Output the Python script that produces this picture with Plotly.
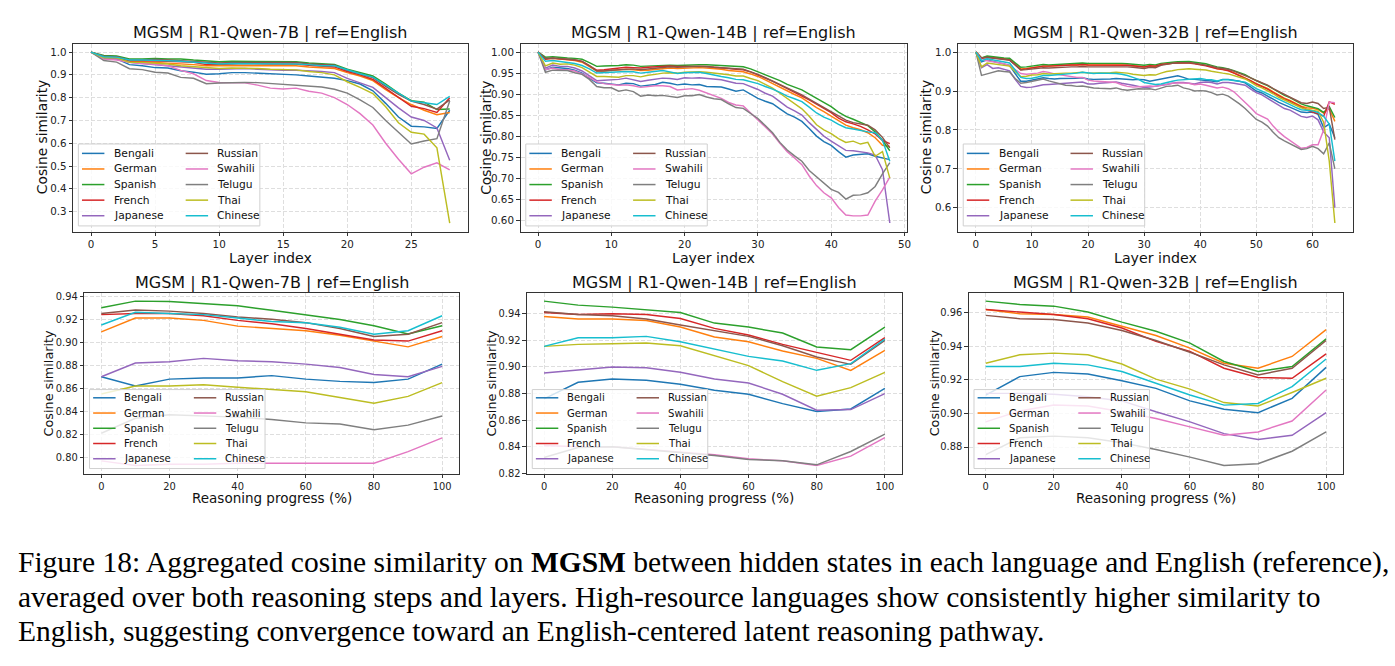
import plotly.graph_objects as go

W, H = 1395, 666
FONT = "DejaVu Sans"
SERIF = "Liberation Serif"

LANGS = ["Bengali", "German", "Spanish", "French", "Japanese",
         "Russian", "Swahili", "Telugu", "Thai", "Chinese"]
COLORS = ["#1f77b4", "#ff7f0e", "#2ca02c", "#d62728", "#9467bd",
          "#8c564b", "#e377c2", "#7f7f7f", "#bcbd22", "#17becf"]

layers_7b = list(range(29))
layers_14b = list(range(49))
layers_32b = list(range(65))
progress = [0, 10, 20, 30, 40, 50, 60, 70, 80, 90, 100]

# ---------------- R1-Qwen-7B, per layer ----------------
layer_7b = {
    "Bengali": [1.0, 0.972, 0.970, 0.945, 0.940, 0.932, 0.930, 0.918, 0.912, 0.903, 0.905, 0.910, 0.910, 0.908, 0.905,
                0.902, 0.900, 0.895, 0.890, 0.885, 0.875, 0.860, 0.830, 0.775, 0.715, 0.675, 0.672, 0.665, 0.745],
    "German": [1.0, 0.978, 0.978, 0.958, 0.958, 0.955, 0.952, 0.950, 0.945, 0.940, 0.940, 0.942, 0.942, 0.940, 0.940,
               0.940, 0.940, 0.935, 0.930, 0.928, 0.910, 0.895, 0.875, 0.835, 0.800, 0.770, 0.745, 0.725, 0.735],
    "Spanish": [1.0, 0.985, 0.983, 0.970, 0.970, 0.972, 0.970, 0.970, 0.965, 0.960, 0.958, 0.960, 0.960, 0.960, 0.958,
                0.958, 0.958, 0.952, 0.948, 0.946, 0.925, 0.910, 0.895, 0.860, 0.820, 0.787, 0.780, 0.748, 0.750],
    "French": [1.0, 0.980, 0.980, 0.962, 0.962, 0.962, 0.960, 0.958, 0.955, 0.945, 0.945, 0.948, 0.950, 0.948, 0.948,
               0.948, 0.948, 0.942, 0.940, 0.935, 0.915, 0.900, 0.880, 0.840, 0.800, 0.762, 0.752, 0.735, 0.800],
    "Japanese": [1.0, 0.975, 0.972, 0.955, 0.950, 0.945, 0.942, 0.935, 0.930, 0.925, 0.925, 0.928, 0.928, 0.925, 0.922,
                 0.920, 0.920, 0.918, 0.915, 0.910, 0.885, 0.865, 0.845, 0.800, 0.755, 0.715, 0.700, 0.667, 0.525],
    "Russian": [1.0, 0.982, 0.980, 0.965, 0.965, 0.968, 0.965, 0.962, 0.960, 0.955, 0.952, 0.955, 0.955, 0.955, 0.955,
                0.955, 0.955, 0.948, 0.945, 0.942, 0.920, 0.905, 0.888, 0.850, 0.815, 0.785, 0.770, 0.750, 0.790],
    "Swahili": [1.0, 0.970, 0.965, 0.955, 0.950, 0.947, 0.940, 0.920, 0.905, 0.875, 0.867, 0.866, 0.865, 0.855, 0.842,
                0.838, 0.842, 0.828, 0.820, 0.800, 0.770, 0.730, 0.680, 0.600, 0.530, 0.466, 0.495, 0.514, 0.483],
    "Telugu": [1.0, 0.963, 0.956, 0.927, 0.923, 0.912, 0.908, 0.889, 0.885, 0.861, 0.864, 0.866, 0.867, 0.866, 0.862,
               0.860, 0.857, 0.850, 0.847, 0.837, 0.820, 0.790, 0.757, 0.700, 0.650, 0.597, 0.610, 0.620, 0.785],
    "Thai": [1.0, 0.975, 0.975, 0.955, 0.955, 0.952, 0.948, 0.940, 0.935, 0.930, 0.928, 0.930, 0.930, 0.928, 0.925,
             0.922, 0.922, 0.915, 0.910, 0.900, 0.870, 0.845, 0.818, 0.760, 0.690, 0.648, 0.640, 0.580, 0.250],
    "Chinese": [1.0, 0.980, 0.978, 0.965, 0.965, 0.965, 0.962, 0.960, 0.955, 0.950, 0.948, 0.950, 0.950, 0.950, 0.948,
                0.948, 0.948, 0.945, 0.940, 0.940, 0.922, 0.905, 0.890, 0.855, 0.820, 0.785, 0.778, 0.770, 0.806],
}

# ---------------- R1-Qwen-14B, per layer ----------------
layer_14b = {
    "Bengali": [1.0, 0.958, 0.964, 0.962, 0.961, 0.957, 0.950, 0.938, 0.927, 0.926,
                0.924, 0.922, 0.926, 0.925, 0.919, 0.921, 0.923, 0.928, 0.926, 0.922,
                0.924, 0.922, 0.923, 0.918, 0.918, 0.917, 0.912, 0.907, 0.910, 0.900,
                0.890, 0.883, 0.877, 0.865, 0.853, 0.845, 0.835, 0.818, 0.800, 0.787,
                0.778, 0.763, 0.750, 0.755, 0.757, 0.758, 0.752, 0.748, 0.744],
    "German": [1.0, 0.984, 0.985, 0.983, 0.982, 0.980, 0.976, 0.966, 0.955, 0.955,
               0.956, 0.957, 0.959, 0.958, 0.956, 0.957, 0.959, 0.961, 0.962, 0.961,
               0.962, 0.963, 0.963, 0.962, 0.961, 0.959, 0.956, 0.954, 0.953, 0.948,
               0.942, 0.934, 0.925, 0.916, 0.907, 0.899, 0.891, 0.879, 0.868, 0.858,
               0.848, 0.836, 0.826, 0.820, 0.815, 0.808, 0.796, 0.778, 0.775],
    "Spanish": [1.0, 0.988, 0.989, 0.987, 0.986, 0.985, 0.983, 0.975, 0.966, 0.967,
                0.967, 0.968, 0.970, 0.969, 0.966, 0.967, 0.968, 0.969, 0.969, 0.968,
                0.969, 0.970, 0.970, 0.970, 0.969, 0.968, 0.967, 0.966, 0.965, 0.960,
                0.953, 0.946, 0.940, 0.932, 0.923, 0.917, 0.910, 0.900, 0.890, 0.880,
                0.870, 0.857, 0.847, 0.840, 0.832, 0.825, 0.810, 0.790, 0.765],
    "French": [1.0, 0.983, 0.985, 0.984, 0.983, 0.981, 0.978, 0.968, 0.957, 0.958,
               0.960, 0.962, 0.964, 0.963, 0.962, 0.964, 0.965, 0.967, 0.967, 0.966,
               0.966, 0.967, 0.967, 0.966, 0.964, 0.963, 0.961, 0.959, 0.958, 0.953,
               0.946, 0.938, 0.931, 0.922, 0.913, 0.905, 0.897, 0.886, 0.876, 0.866,
               0.856, 0.843, 0.834, 0.829, 0.823, 0.815, 0.805, 0.790, 0.782],
    "Japanese": [1.0, 0.962, 0.969, 0.966, 0.966, 0.962, 0.955, 0.944, 0.932, 0.933,
                 0.934, 0.935, 0.938, 0.934, 0.930, 0.933, 0.935, 0.938, 0.937, 0.935,
                 0.939, 0.938, 0.939, 0.937, 0.935, 0.934, 0.930, 0.926, 0.925, 0.918,
                 0.911, 0.902, 0.895, 0.882, 0.869, 0.860, 0.850, 0.832, 0.815, 0.800,
                 0.788, 0.776, 0.766, 0.765, 0.763, 0.760, 0.755, 0.720, 0.593],
    "Russian": [1.0, 0.985, 0.986, 0.985, 0.984, 0.982, 0.978, 0.968, 0.955, 0.955,
                0.957, 0.958, 0.960, 0.960, 0.958, 0.960, 0.962, 0.964, 0.965, 0.964,
                0.965, 0.966, 0.966, 0.965, 0.964, 0.962, 0.961, 0.960, 0.959, 0.953,
                0.947, 0.939, 0.931, 0.923, 0.914, 0.906, 0.898, 0.888, 0.878, 0.869,
                0.860, 0.848, 0.838, 0.832, 0.829, 0.826, 0.815, 0.797, 0.772],
    "Swahili": [1.0, 0.958, 0.962, 0.958, 0.958, 0.955, 0.948, 0.940, 0.929, 0.925,
                0.923, 0.921, 0.922, 0.920, 0.916, 0.918, 0.920, 0.920, 0.918, 0.910,
                0.912, 0.913, 0.909, 0.903, 0.897, 0.890, 0.880, 0.874, 0.872, 0.855,
                0.840, 0.822, 0.805, 0.783, 0.763, 0.748, 0.732, 0.705, 0.682, 0.665,
                0.653, 0.630, 0.612, 0.610, 0.610, 0.612, 0.645, 0.672, 0.702],
    "Telugu": [1.0, 0.952, 0.957, 0.956, 0.956, 0.951, 0.947, 0.935, 0.918, 0.915,
               0.915, 0.907, 0.910, 0.906, 0.895, 0.898, 0.896, 0.897, 0.895, 0.892,
               0.896, 0.896, 0.899, 0.893, 0.889, 0.887, 0.877, 0.868, 0.866, 0.855,
               0.842, 0.825, 0.808, 0.785, 0.767, 0.753, 0.740, 0.718, 0.703, 0.688,
               0.673, 0.666, 0.650, 0.659, 0.660, 0.665, 0.680, 0.710, 0.737],
    "Thai": [1.0, 0.967, 0.974, 0.971, 0.972, 0.969, 0.963, 0.953, 0.942, 0.942,
             0.941, 0.940, 0.944, 0.944, 0.941, 0.945, 0.947, 0.950, 0.951, 0.950,
             0.952, 0.953, 0.953, 0.952, 0.950, 0.949, 0.946, 0.943, 0.943, 0.937,
             0.932, 0.923, 0.914, 0.902, 0.890, 0.878, 0.865, 0.847, 0.827, 0.815,
             0.806, 0.794, 0.785, 0.788, 0.781, 0.785, 0.752, 0.763, 0.700],
    "Chinese": [1.0, 0.978, 0.980, 0.978, 0.976, 0.973, 0.968, 0.960, 0.950, 0.951,
                0.951, 0.952, 0.954, 0.953, 0.950, 0.952, 0.954, 0.956, 0.953, 0.949,
                0.951, 0.951, 0.952, 0.949, 0.945, 0.942, 0.939, 0.935, 0.934, 0.930,
                0.925, 0.918, 0.912, 0.904, 0.895, 0.889, 0.882, 0.869, 0.855, 0.845,
                0.838, 0.828, 0.820, 0.817, 0.813, 0.810, 0.808, 0.790, 0.740],
}

# ---------------- R1-Qwen-32B, per layer ----------------
layer_32b = {
    "Bengali": [1.0, 0.975, 0.980, 0.977, 0.973, 0.970, 0.966, 0.945, 0.925, 0.925,
                0.928, 0.930, 0.934, 0.932, 0.931, 0.932, 0.932, 0.932, 0.933, 0.934,
                0.931, 0.930, 0.930, 0.931, 0.931, 0.932, 0.931, 0.930, 0.929, 0.930,
                0.929, 0.925, 0.928, 0.931, 0.935, 0.937, 0.939, 0.935, 0.930, 0.930,
                0.929, 0.928, 0.926, 0.924, 0.930, 0.930, 0.928, 0.925, 0.921, 0.910,
                0.900, 0.895, 0.888, 0.879, 0.871, 0.865, 0.859, 0.852, 0.846, 0.845,
                0.846, 0.840, 0.806, 0.815, 0.780],
    "German": [1.0, 0.985, 0.988, 0.986, 0.985, 0.983, 0.981, 0.969, 0.957, 0.958,
               0.960, 0.962, 0.964, 0.964, 0.965, 0.966, 0.967, 0.967, 0.967, 0.968,
               0.967, 0.967, 0.968, 0.968, 0.968, 0.968, 0.967, 0.966, 0.965, 0.964,
               0.962, 0.964, 0.963, 0.968, 0.970, 0.971, 0.972, 0.973, 0.973, 0.971,
               0.969, 0.966, 0.962, 0.958, 0.956, 0.953, 0.947, 0.941, 0.935, 0.927,
               0.919, 0.913, 0.907, 0.898, 0.889, 0.882, 0.876, 0.869, 0.861, 0.857,
               0.856, 0.852, 0.843, 0.855, 0.822],
    "Spanish": [1.0, 0.985, 0.990, 0.988, 0.987, 0.985, 0.984, 0.972, 0.961, 0.962,
                0.964, 0.966, 0.968, 0.967, 0.968, 0.969, 0.970, 0.970, 0.971, 0.972,
                0.971, 0.971, 0.972, 0.972, 0.972, 0.972, 0.971, 0.970, 0.969, 0.968,
                0.966, 0.968, 0.967, 0.971, 0.973, 0.974, 0.975, 0.975, 0.976, 0.974,
                0.972, 0.970, 0.966, 0.962, 0.960, 0.957, 0.952, 0.947, 0.942, 0.934,
                0.926, 0.920, 0.914, 0.905, 0.896, 0.889, 0.883, 0.875, 0.867, 0.862,
                0.858, 0.855, 0.845, 0.860, 0.832],
    "French": [1.0, 0.984, 0.986, 0.985, 0.984, 0.982, 0.980, 0.968, 0.955, 0.957,
               0.959, 0.962, 0.964, 0.964, 0.965, 0.966, 0.967, 0.967, 0.967, 0.968,
               0.967, 0.967, 0.967, 0.967, 0.967, 0.967, 0.966, 0.966, 0.965, 0.964,
               0.962, 0.965, 0.964, 0.968, 0.970, 0.971, 0.972, 0.972, 0.972, 0.970,
               0.968, 0.965, 0.961, 0.957, 0.955, 0.952, 0.946, 0.940, 0.934, 0.926,
               0.918, 0.912, 0.905, 0.896, 0.887, 0.880, 0.874, 0.866, 0.858, 0.852,
               0.846, 0.842, 0.835, 0.872, 0.866],
    "Japanese": [1.0, 0.960, 0.968, 0.958, 0.960, 0.955, 0.952, 0.930, 0.912, 0.909,
                 0.910, 0.913, 0.916, 0.917, 0.918, 0.919, 0.920, 0.921, 0.922, 0.923,
                 0.918, 0.918, 0.920, 0.921, 0.922, 0.923, 0.920, 0.918, 0.915, 0.912,
                 0.909, 0.910, 0.912, 0.914, 0.917, 0.920, 0.922, 0.922, 0.920, 0.918,
                 0.922, 0.923, 0.922, 0.918, 0.922, 0.922, 0.920, 0.918, 0.915, 0.905,
                 0.896, 0.890, 0.881, 0.871, 0.862, 0.855, 0.851, 0.843, 0.835, 0.832,
                 0.836, 0.826, 0.795, 0.780, 0.600],
    "Russian": [1.0, 0.985, 0.987, 0.985, 0.984, 0.982, 0.979, 0.967, 0.954, 0.955,
                0.957, 0.958, 0.960, 0.959, 0.960, 0.961, 0.962, 0.962, 0.962, 0.963,
                0.962, 0.962, 0.962, 0.962, 0.963, 0.963, 0.962, 0.962, 0.961, 0.960,
                0.958, 0.961, 0.960, 0.966, 0.969, 0.971, 0.972, 0.973, 0.973, 0.971,
                0.969, 0.967, 0.964, 0.960, 0.958, 0.956, 0.951, 0.946, 0.941, 0.934,
                0.927, 0.921, 0.915, 0.906, 0.898, 0.890, 0.884, 0.877, 0.870, 0.868,
                0.872, 0.868, 0.855, 0.858, 0.775],
    "Swahili": [1.0, 0.980, 0.978, 0.975, 0.972, 0.970, 0.965, 0.955, 0.945, 0.943,
                0.944, 0.946, 0.950, 0.948, 0.944, 0.942, 0.940, 0.937, 0.935, 0.935,
                0.928, 0.926, 0.925, 0.924, 0.924, 0.922, 0.916, 0.912, 0.910, 0.911,
                0.912, 0.913, 0.912, 0.915, 0.918, 0.920, 0.921, 0.921, 0.920, 0.916,
                0.918, 0.915, 0.912, 0.908, 0.910, 0.906, 0.898, 0.885, 0.870, 0.857,
                0.842, 0.834, 0.828, 0.810, 0.795, 0.783, 0.773, 0.762, 0.753, 0.755,
                0.762, 0.762, 0.800, 0.872, 0.870],
    "Telugu": [1.0, 0.940, 0.944, 0.948, 0.952, 0.950, 0.949, 0.932, 0.920, 0.922,
               0.925, 0.928, 0.931, 0.926, 0.922, 0.918, 0.915, 0.914, 0.912, 0.913,
               0.910, 0.908, 0.907, 0.906, 0.906, 0.908, 0.904, 0.902, 0.904, 0.906,
               0.905, 0.906, 0.903, 0.908, 0.912, 0.913, 0.915, 0.908, 0.905, 0.900,
               0.901, 0.900, 0.896, 0.890, 0.892, 0.887, 0.878, 0.867, 0.855, 0.840,
               0.827, 0.820, 0.810, 0.794, 0.780, 0.772, 0.765, 0.757, 0.750, 0.752,
               0.758, 0.752, 0.739, 0.767, 0.700],
    "Thai": [1.0, 0.962, 0.972, 0.970, 0.968, 0.966, 0.964, 0.950, 0.937, 0.938,
             0.941, 0.942, 0.945, 0.944, 0.945, 0.946, 0.946, 0.946, 0.947, 0.948,
             0.946, 0.946, 0.947, 0.947, 0.947, 0.948, 0.947, 0.946, 0.943, 0.942,
             0.940, 0.942, 0.941, 0.946, 0.950, 0.952, 0.955, 0.956, 0.957, 0.956,
             0.955, 0.954, 0.951, 0.948, 0.946, 0.944, 0.939, 0.935, 0.931, 0.923,
             0.914, 0.908, 0.901, 0.893, 0.884, 0.877, 0.871, 0.864, 0.857, 0.853,
             0.851, 0.848, 0.820, 0.720, 0.561],
    "Chinese": [1.0, 0.978, 0.983, 0.980, 0.978, 0.975, 0.972, 0.954, 0.935, 0.932,
                0.933, 0.936, 0.940, 0.940, 0.941, 0.942, 0.943, 0.944, 0.946, 0.948,
                0.946, 0.945, 0.946, 0.946, 0.946, 0.945, 0.943, 0.940, 0.935, 0.930,
                0.922, 0.920, 0.917, 0.918, 0.922, 0.925, 0.928, 0.929, 0.930, 0.930,
                0.932, 0.930, 0.929, 0.926, 0.929, 0.929, 0.927, 0.926, 0.923, 0.915,
                0.906, 0.900, 0.893, 0.885, 0.877, 0.870, 0.865, 0.858, 0.852, 0.850,
                0.849, 0.845, 0.835, 0.815, 0.720],
}

# ---------------- reasoning progress ----------------
progress_7b = {
    "Bengali": [0.870, 0.862, 0.868, 0.869, 0.869, 0.871, 0.868, 0.866, 0.865, 0.868, 0.881],
    "German": [0.909, 0.921, 0.921, 0.919, 0.914, 0.912, 0.910, 0.906, 0.901, 0.896, 0.905],
    "Spanish": [0.930, 0.9357, 0.9354, 0.9337, 0.9317, 0.9277, 0.9234, 0.9197, 0.9143, 0.9071, 0.9143],
    "French": [0.924, 0.925, 0.925, 0.923, 0.919, 0.916, 0.912, 0.907, 0.902, 0.901, 0.910],
    "Japanese": [0.870, 0.882, 0.883, 0.886, 0.884, 0.883, 0.881, 0.878, 0.872, 0.870, 0.879],
    "Russian": [0.925, 0.928, 0.927, 0.925, 0.922, 0.920, 0.917, 0.912, 0.905, 0.907, 0.917],
    "Swahili": [0.797, 0.793, 0.794, 0.794, 0.795, 0.795, 0.795, 0.795, 0.795, 0.805, 0.817],
    "Telugu": [0.821, 0.834, 0.837, 0.836, 0.835, 0.833, 0.830, 0.829, 0.824, 0.828, 0.836],
    "Thai": [0.855, 0.862, 0.862, 0.863, 0.861, 0.859, 0.857, 0.852, 0.847, 0.853, 0.865],
    "Chinese": [0.915, 0.926, 0.925, 0.924, 0.921, 0.918, 0.917, 0.913, 0.907, 0.910, 0.923],
}
progress_14b = {
    "Bengali": [0.876, 0.8885, 0.891, 0.890, 0.887, 0.8825, 0.8795, 0.8725, 0.8665, 0.8685, 0.884],
    "German": [0.938, 0.936, 0.936, 0.935, 0.930, 0.9225, 0.919, 0.912, 0.9065, 0.8975, 0.9125],
    "Spanish": [0.9495, 0.9465, 0.945, 0.943, 0.941, 0.933, 0.930, 0.9255, 0.915, 0.913, 0.930],
    "French": [0.941, 0.9395, 0.940, 0.9395, 0.9365, 0.929, 0.924, 0.917, 0.911, 0.905, 0.922],
    "Japanese": [0.8955, 0.898, 0.900, 0.8995, 0.896, 0.891, 0.888, 0.8795, 0.8675, 0.868, 0.880],
    "Russian": [0.9415, 0.9395, 0.9385, 0.936, 0.9315, 0.927, 0.923, 0.916, 0.9075, 0.902, 0.920],
    "Swahili": [0.841, 0.840, 0.840, 0.838, 0.8365, 0.834, 0.831, 0.8295, 0.826, 0.833, 0.847],
    "Telugu": [0.832, 0.8395, 0.840, 0.838, 0.8355, 0.8335, 0.8305, 0.8295, 0.8265, 0.8365, 0.8495],
    "Thai": [0.9155, 0.917, 0.9175, 0.918, 0.916, 0.9085, 0.901, 0.889, 0.878, 0.8845, 0.896],
    "Chinese": [0.9155, 0.922, 0.922, 0.923, 0.919, 0.9135, 0.908, 0.9045, 0.8975, 0.9025, 0.921],
}
progress_32b = {
    "Bengali": [0.911, 0.922, 0.9245, 0.9235, 0.9195, 0.915, 0.9075, 0.9025, 0.9005, 0.909, 0.9275],
    "German": [0.962, 0.9595, 0.959, 0.9575, 0.952, 0.9465, 0.939, 0.930, 0.927, 0.934, 0.950],
    "Spanish": [0.967, 0.965, 0.964, 0.9605, 0.9545, 0.949, 0.942, 0.931, 0.925, 0.928, 0.9445],
    "French": [0.962, 0.9605, 0.959, 0.9565, 0.951, 0.943, 0.937, 0.927, 0.9215, 0.921, 0.9355],
    "Japanese": [0.912, 0.912, 0.9115, 0.910, 0.9075, 0.901, 0.895, 0.888, 0.8845, 0.887, 0.9005],
    "Russian": [0.9585, 0.9565, 0.956, 0.954, 0.9495, 0.9435, 0.9365, 0.929, 0.923, 0.927, 0.9435],
    "Swahili": [0.895, 0.9015, 0.905, 0.9045, 0.901, 0.897, 0.892, 0.887, 0.889, 0.8955, 0.914],
    "Telugu": [0.8755, 0.8855, 0.8865, 0.8855, 0.8825, 0.8785, 0.874, 0.869, 0.870, 0.8775, 0.889],
    "Thai": [0.930, 0.935, 0.936, 0.935, 0.9295, 0.9205, 0.9145, 0.9065, 0.9045, 0.9125, 0.921],
    "Chinese": [0.928, 0.928, 0.930, 0.929, 0.925, 0.918, 0.911, 0.905, 0.906, 0.916, 0.9325],
}

TITLES = ["MGSM | R1-Qwen-7B | ref=English", "MGSM | R1-Qwen-14B | ref=English",
          "MGSM | R1-Qwen-32B | ref=English"]
CAPTION = [
    "Figure 18: Aggregated cosine similarity on <b>MGSM</b> between hidden states in each language and English (reference),",
    "averaged over both reasoning steps and layers. High-resource languages show consistently higher similarity to",
    "English, suggesting convergence toward an English-centered latent reasoning pathway.",
]


def fx(p):
    return p / W


def fy(p):
    return 1 - p / H


# layout in pixels (x0, x1, ytop, ybottom)
panels = [
    dict(x=layers_7b, d=layer_7b, t=TITLES[0], xl="Layer index", px=(73.3, 469.0), py=(42, 232),
         xd=5, yd=0.1, yf=".1f", row=0, ylx=41.7),
    dict(x=layers_14b, d=layer_14b, t=TITLES[1], xl="Layer index", px=(522.0, 910.0), py=(42, 232),
         xd=10, yd=0.05, yf=".2f", row=0, ylx=486.7),
    dict(x=layers_32b, d=layer_32b, t=TITLES[2], xl="Layer index", px=(960.7, 1356.7), py=(42, 232),
         xd=10, yd=0.1, yf=".1f", row=0, ylx=928.3),
    dict(x=progress, d=progress_7b, t=TITLES[0], xl="Reasoning progress (%)", px=(84.5, 460.5), py=(294, 476.7),
         xd=20, yd=0.02, yf=".2f", row=1, ylx=48.3),
    dict(x=progress, d=progress_14b, t=TITLES[1], xl="Reasoning progress (%)", px=(528.5, 904.5), py=(294, 476.7),
         xd=20, yd=0.02, yf=".2f", row=1, ylx=492.7),
    dict(x=progress, d=progress_32b, t=TITLES[2], xl="Reasoning progress (%)", px=(971.5, 1347.0), py=(294, 476.7),
         xd=20, yd=0.02, yf=".2f", row=1, ylx=936.7),
]

ROWSTYLE = [
    dict(title_y=30.5, xlab_y=258.5, xlab_fs=14.2, ylab_fs=13.8, tick_fs=10.3, leg_fs=10.7,
         leg_top=143.5, leg_bot=226.3, leg_w=182, leg_rows=[153, 168.75, 184.5, 200.25, 216],
         col_off=104, txt_off=34.5),
    dict(title_y=283, xlab_y=501.5, xlab_fs=13.5, ylab_fs=12.8, tick_fs=9.9, leg_fs=10.1,
         leg_top=391.7, leg_bot=471.5, leg_w=176, leg_rows=[400, 415.4, 430.8, 446.2, 461.6],
         col_off=101, txt_off=34),
]

fig = go.Figure()
annotations = []
shapes = []
layout_axes = {}

for i, p in enumerate(panels):
    k = "" if i == 0 else str(i + 1)
    rs = ROWSTYLE[p["row"]]
    xs = p["x"]
    allv = [v for lang in LANGS for v in p["d"][lang]]
    ylo, yhi = min(allv), max(allv)
    ypad = 0.05 * (yhi - ylo)
    xlo, xhi = min(xs), max(xs)
    xpad = 0.05 * (xhi - xlo)
    for lang, col in zip(LANGS, COLORS):
        fig.add_trace(go.Scatter(x=xs, y=p["d"][lang], mode="lines", name=lang,
                                 line=dict(color=col, width=1.45), showlegend=False,
                                 xaxis="x" + k, yaxis="y" + k))
    common = dict(showline=True, mirror=True, linecolor="#333333", linewidth=1,
                  ticks="outside", ticklen=3.5, tickwidth=1, tickcolor="#333333",
                  showgrid=True, gridcolor="#dedede", gridwidth=0.8, griddash="4px,2px",
                  zeroline=False, tickfont=dict(family=FONT, size=rs["tick_fs"], color="#222222"))
    layout_axes["xaxis" + k] = dict(common, domain=[fx(p["px"][0]), fx(p["px"][1])], anchor="y" + k,
                                    range=[xlo - xpad, xhi + xpad], tick0=0, dtick=p["xd"])
    layout_axes["yaxis" + k] = dict(common, domain=[fy(p["py"][1]), fy(p["py"][0])], anchor="x" + k,
                                    range=[ylo - ypad, yhi + ypad], tick0=0, dtick=p["yd"],
                                    tickformat=p["yf"])
    cx = (p["px"][0] + p["px"][1]) / 2
    cy = (p["py"][0] + p["py"][1]) / 2
    annotations.append(dict(text=p["t"], x=fx(cx), y=fy(rs["title_y"]), xref="paper", yref="paper",
                            xanchor="center", yanchor="middle", showarrow=False,
                            font=dict(family=FONT, size=16, color="#111111")))
    annotations.append(dict(text=p["xl"], x=fx(cx), y=fy(rs["xlab_y"]), xref="paper", yref="paper",
                            xanchor="center", yanchor="middle", showarrow=False, borderpad=0,
                            font=dict(family=FONT, size=rs["xlab_fs"], color="#111111")))
    annotations.append(dict(text="Cosine similarity", x=fx(p["ylx"]), y=fy(cy), xref="paper", yref="paper",
                            xanchor="center", yanchor="middle", showarrow=False, textangle=-90,
                            font=dict(family=FONT, size=rs["ylab_fs"], color="#111111")))
    # legend box (two columns, matplotlib style)
    lx0 = p["px"][0] + 5.3
    shapes.append(dict(type="rect", xref="paper", yref="paper", layer="above",
                       x0=fx(lx0), x1=fx(lx0 + rs["leg_w"]), y0=fy(rs["leg_bot"]), y1=fy(rs["leg_top"]),
                       line=dict(color="#d0d0d0", width=1), fillcolor="rgba(255,255,255,0.8)"))
    for j, (lang, col) in enumerate(zip(LANGS, COLORS)):
        c, r = divmod(j, 5)
        bx = lx0 + c * rs["col_off"]
        ry = rs["leg_rows"][r]
        shapes.append(dict(type="line", xref="paper", yref="paper", layer="above",
                           x0=fx(bx + 3.6), x1=fx(bx + 26.1), y0=fy(ry), y1=fy(ry),
                           line=dict(color=col, width=1.5)))
        annotations.append(dict(text=lang, x=fx(bx + rs["txt_off"]), y=fy(ry), xref="paper", yref="paper",
                                xanchor="left", yanchor="middle", showarrow=False, borderpad=0,
                                font=dict(family=FONT, size=rs["leg_fs"], color="#111111")))

for n, (line, ypx) in enumerate(zip(CAPTION, [566, 601, 636])):
    annotations.append(dict(text=line, x=fx(17), y=fy(ypx), xref="paper", yref="paper",
                            xanchor="left", yanchor="middle", showarrow=False, borderpad=0,
                            font=dict(family=SERIF, size=29.5, color="#000000")))

fig.update_layout(width=W, height=H, autosize=False, margin=dict(l=0, r=0, t=0, b=0),
                  paper_bgcolor="white", plot_bgcolor="white", showlegend=False,
                  annotations=annotations, shapes=shapes, font=dict(family=FONT),
                  **layout_axes)

fig.write_html("out.html")
